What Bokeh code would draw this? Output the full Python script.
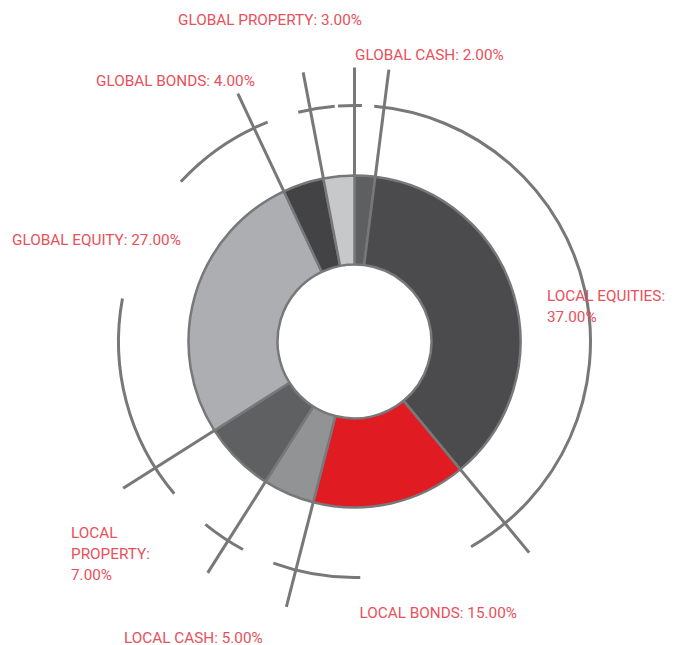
import math
from bokeh.plotting import figure
from bokeh.models import Range1d, ColumnDataSource
from bokeh.embed import file_html
from bokeh.resources import INLINE
from bokeh.core.properties import value

# ---------------- data ----------------
categories = ["GLOBAL CASH", "LOCAL EQUITIES", "LOCAL BONDS", "LOCAL CASH",
              "LOCAL PROPERTY", "GLOBAL EQUITY", "GLOBAL BONDS", "GLOBAL PROPERTY"]
values = [2.0, 37.0, 15.0, 5.0, 7.0, 27.0, 4.0, 3.0]
colors = ["#5e5f61", "#4b4b4d", "#e01b22", "#929395",
          "#5f6062", "#adaeb1", "#434345", "#c7c8ca"]

# ---------------- layout / style ----------------
W, H = 684, 645
CX, CY = 354, H - 341
R_OUT, R_IN = 166, 77
RING_R = 236
SPOKE_R = 274
GREY = "#78787b"
LABEL_COLOR = "#e8505b"
FONT = "Roboto"
FONT_SIZE = 15.3

# label anchors: left x, first baseline (screen y), line gap, words per line
label_layout = {
    "GLOBAL CASH": (354.5, 54.3, 0, None),
    "LOCAL EQUITIES": (546.5, 295.7, 21, [2, 1]),
    "LOCAL BONDS": (359, 612.7, 0, None),
    "LOCAL CASH": (123.5, 637.0, 0, None),
    "LOCAL PROPERTY": (70.5, 532.7, 20.7, [1, 1, 1]),
    "GLOBAL EQUITY": (11.5, 239.3, 0, None),
    "GLOBAL BONDS": (95.5, 80.7, 0, None),
    "GLOBAL PROPERTY": (177.5, 19, 0, None),
}

# decorative ring segments: (boundary idx, deg before, boundary idx, deg after)
ring_segments = [
    (8, 4.0, 8, 1.8),
    (1, 2.4, 2, 10.0),
    (3, 15.8, 3, 5.7),
    (4, 4.2, 4, 6.8),
    (5, 7.8, 5, 42.9),
    (6, 22.2, 6, 3.6),
    (7, 3.0, 7, 6.0),
]

# ---------------- geometry from data ----------------
total = sum(values)
cum = [0.0]
for v in values:
    cum.append(cum[-1] + v)
t_bound = [360.0 * c / total for c in cum]  # clockwise degrees from top


def ang(t):
    return math.radians(90.0 - t)


p = figure(width=W, height=H, output_backend="svg", toolbar_location=None,
           x_range=Range1d(0, W), y_range=Range1d(0, H),
           min_border=0, outline_line_color=None)
p.axis.visible = False
p.grid.visible = False
p.background_fill_color = "white"
p.border_fill_color = "white"

# ring arcs
for (i0, b0, i1, b1) in ring_segments:
    ts = t_bound[i0] - b0
    te = t_bound[i1] + b1
    p.arc(x=[CX], y=[CY], radius=RING_R, start_angle=[ang(ts)], end_angle=[ang(te)],
          direction="clock", line_color=GREY, line_width=3)

# spokes at slice boundaries
bounds = t_bound[:-1]
p.segment(x0=[CX + (R_OUT - 1) * math.cos(ang(t)) for t in bounds],
          y0=[CY + (R_OUT - 1) * math.sin(ang(t)) for t in bounds],
          x1=[CX + SPOKE_R * math.cos(ang(t)) for t in bounds],
          y1=[CY + SPOKE_R * math.sin(ang(t)) for t in bounds],
          line_color=GREY, line_width=3)

# donut
src = ColumnDataSource(dict(
    start=[ang(t_bound[i]) for i in range(len(values))],
    end=[ang(t_bound[i + 1]) for i in range(len(values))],
    color=colors,
))
p.annular_wedge(x=CX, y=CY, inner_radius=R_IN, outer_radius=R_OUT,
                start_angle="start", end_angle="end", direction="clock",
                fill_color="color", line_color=GREY, line_width=2.5, source=src)

# labels
lx, ly, lt = [], [], []
for name, v in zip(categories, values):
    x, y, gap, wrap = label_layout[name]
    full = f"{name}: {v:.2f}%"
    words = full.split(" ")
    if wrap is None:
        lines = [full]
    else:
        lines, k = [], 0
        for n in wrap:
            lines.append(" ".join(words[k:k + n]))
            k += n
    for j, line in enumerate(lines):
        lx.append(x)
        ly.append(H - (y + j * gap))
        lt.append(line)
p.text(x=lx, y=ly, text=lt, text_font=value(FONT), text_font_size=f"{FONT_SIZE}px",
       text_color=LABEL_COLOR, text_baseline="alphabetic", text_align="left")

open("out.html", "w").write(file_html(p, INLINE))
